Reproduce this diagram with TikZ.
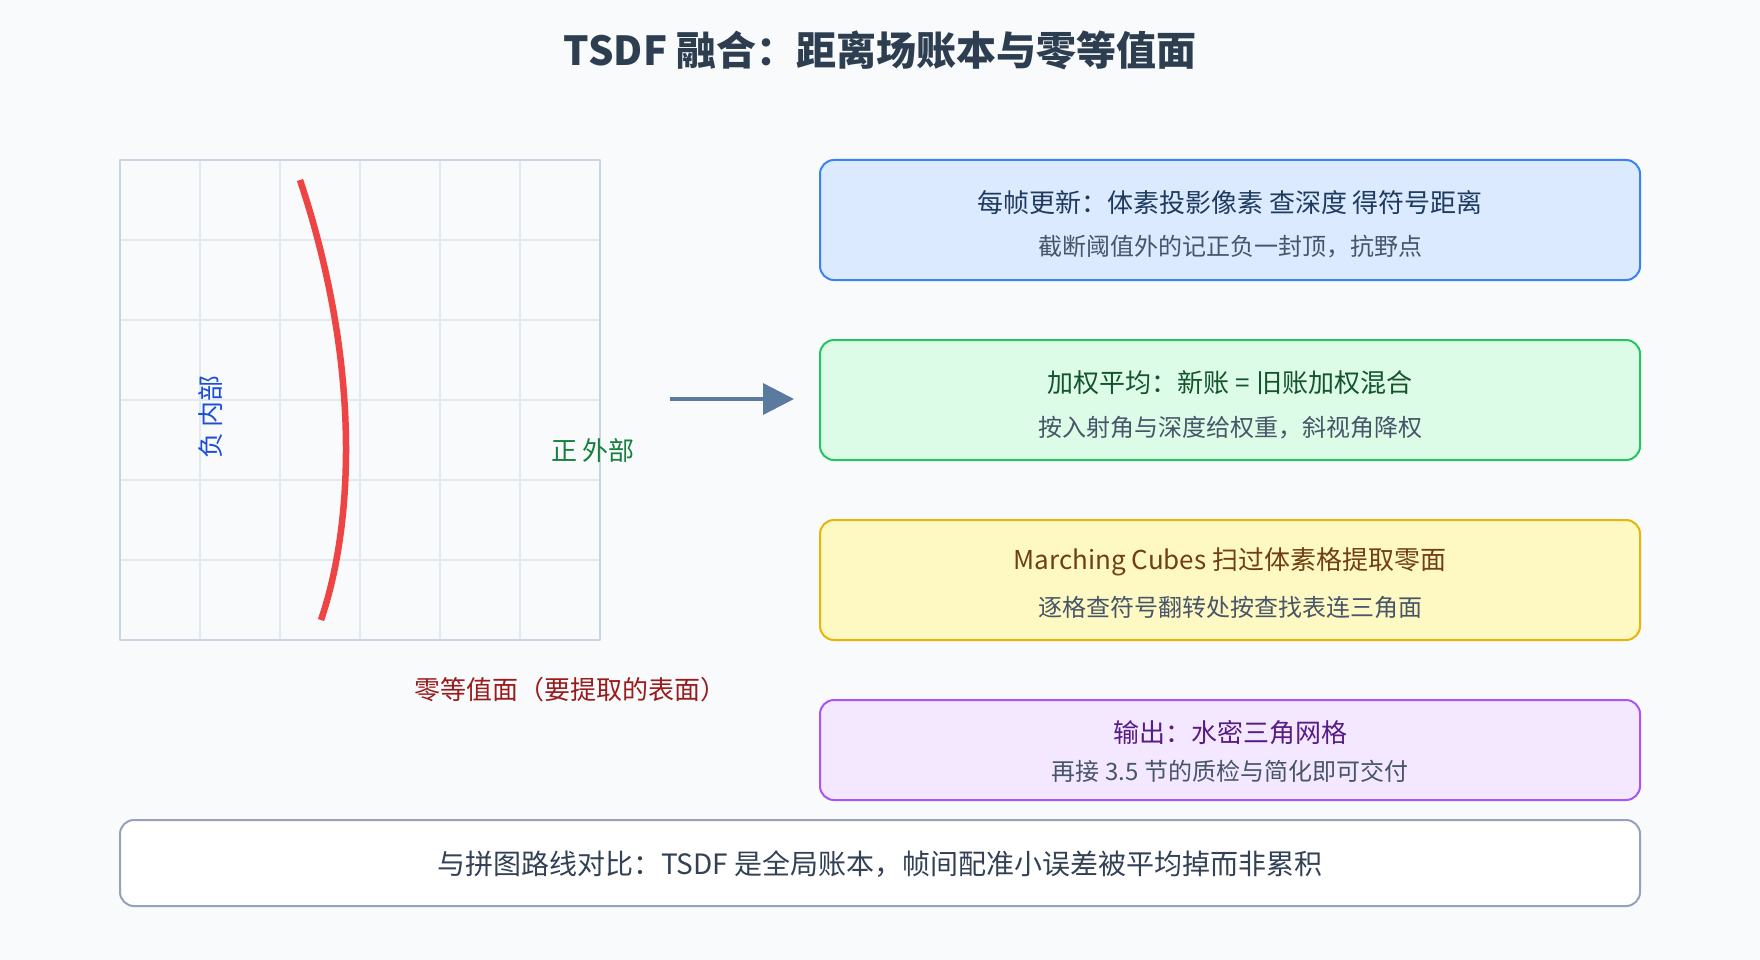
\documentclass[tikz,border=0pt]{standalone}
\usepackage{fontspec}
\setmainfont{Noto Sans CJK SC}
\usetikzlibrary{arrows.meta}

\definecolor{pagebg}{HTML}{F8FAFC}
\definecolor{titleink}{HTML}{2C3E50}
\definecolor{gridthin}{HTML}{E2E8F0}
\definecolor{gridedge}{HTML}{CBD5E1}
\definecolor{surfred}{HTML}{EF4444}
\definecolor{negblue}{HTML}{1D4ED8}
\definecolor{posgreen}{HTML}{15803D}
\definecolor{zerored}{HTML}{991B1B}
\definecolor{arrowslate}{HTML}{5B7AA0}
\definecolor{subink}{HTML}{475569}
\definecolor{noteink}{HTML}{334155}
\definecolor{updfill}{HTML}{DBEAFE}
\definecolor{upddraw}{HTML}{3B82F6}
\definecolor{updink}{HTML}{1E3A5F}
\definecolor{avgfill}{HTML}{DCFCE7}
\definecolor{avgdraw}{HTML}{22C55E}
\definecolor{avgink}{HTML}{14532D}
\definecolor{mcfill}{HTML}{FEF9C3}
\definecolor{mcdraw}{HTML}{EAB308}
\definecolor{mcink}{HTML}{713F12}
\definecolor{outfill}{HTML}{F3E8FF}
\definecolor{outdraw}{HTML}{A855F7}
\definecolor{outink}{HTML}{581C87}
\definecolor{notedraw}{HTML}{94A3B8}

\begin{document}
\begin{tikzpicture}[
	x=1pt, y=-1pt,
	every node/.style={inner sep=0pt},
	line join=round,
	stepbox/.style={draw, line width=2pt, rounded corners=14pt,
		minimum width=820pt, minimum height=120pt},
	boxtitle/.style={font=\fontsize{26}{30}\selectfont},
	boxsub/.style={font=\fontsize{24}{28}\selectfont, text=subink},
	gridline/.style={draw=gridthin, line width=1.5pt},
	labeltext/.style={font=\fontsize{26}{30}\selectfont}
	]
	
	\fill[pagebg] (0,0) rectangle (1760,960);
	
	\node[font=\bfseries\fontsize{40}{46}\selectfont, text=titleink] (title) at (880,50)
	{TSDF 融合：距离场账本与零等值面};
	
	% voxel grid
	\foreach \gx in {200,280,...,520}
	\draw[gridline] (\gx,160) -- (\gx,640);
	\foreach \gy in {240,320,...,560}
	\draw[gridline] (120,\gy) -- (600,\gy);
	\draw[draw=gridedge, line width=2pt] (120,160) rectangle (600,640);
	
	% zero level set
	\draw[surfred, line width=6.5pt] (300,180) .. controls (360,360) and (355,520) .. (321,620);
	
	\node[labeltext, text=negblue, rotate=90] (inside) at (211,417) {负 内部};
	\node[labeltext, text=posgreen] (outside) at (593,451) {正 外部};
	\node[labeltext, text=zerored] (zero) at (570,690) {零等值面（要提取的表面）};
	
	\coordinate (arrowfrom) at (670,399);
	\coordinate (arrowto) at (794,399);
	\draw[arrowslate, line width=3.5pt, -{Triangle[length=31pt, width=31pt]}] (arrowfrom) -- (arrowto);
	
	% steps
	\node[stepbox, draw=upddraw, fill=updfill] (update) at (1230,220) {};
	\node[boxtitle, text=updink] (update-t) at (1230,203) {每帧更新：体素投影像素 查深度 得符号距离};
	\node[boxsub] (update-s) at (1230,247) {截断阈值外的记正负一封顶，抗野点};
	
	\node[stepbox, draw=avgdraw, fill=avgfill] (average) at (1230,400) {};
	\node[boxtitle, text=avgink] (average-t) at (1230,383) {加权平均：新账 = 旧账加权混合};
	\node[boxsub] (average-s) at (1230,428) {按入射角与深度给权重，斜视角降权};
	
	\node[stepbox, draw=mcdraw, fill=mcfill] (cubes) at (1230,580) {};
	\node[boxtitle, text=mcink] (cubes-t) at (1230,562) {Marching Cubes 扫过体素格提取零面};
	\node[boxsub] (cubes-s) at (1230,607) {逐格查符号翻转处按查找表连三角面};
	
	\node[stepbox, draw=outdraw, fill=outfill, minimum height=100pt] (output) at (1230,750) {};
	\node[boxtitle, text=outink] (output-t) at (1230,733) {输出：水密三角网格};
	\node[boxsub] (output-s) at (1230,771) {再接 3.5 节的质检与简化即可交付};
	
	% comparison note
	\node[stepbox, draw=notedraw, fill=white, minimum width=1520pt, minimum height=86pt] (note) at (880,863) {};
	\node[font=\fontsize{28}{32}\selectfont, text=noteink] (note-t) at (880,864)
	{与拼图路线对比：TSDF 是全局账本，帧间配准小误差被平均掉而非累积};
	
\end{tikzpicture}
\end{document}
